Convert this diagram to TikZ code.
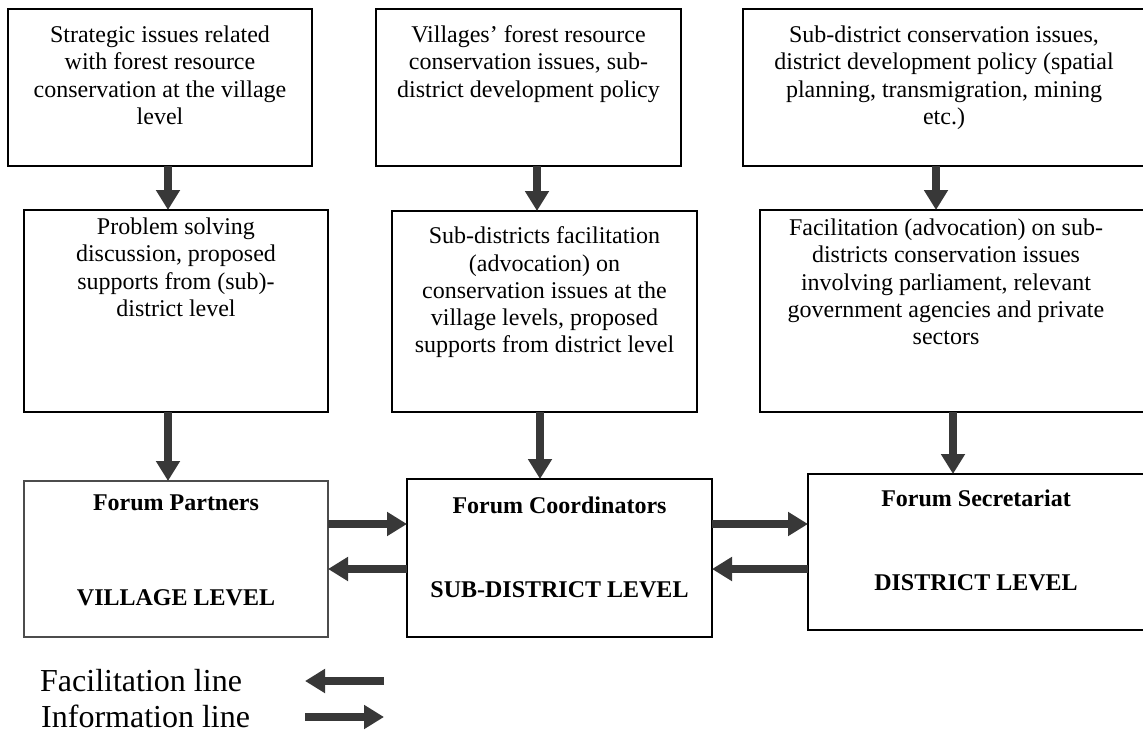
\documentclass[tikz,border=0pt]{standalone}
\usepackage{fontspec}
\setmainfont{Liberation Serif}
\usetikzlibrary{arrows.meta}
\definecolor{arrowgray}{HTML}{383838}
\begin{document}
\begin{tikzpicture}[x=1pt,y=-1pt,
  box/.style={draw=black, line width=1.4pt, inner sep=0pt, outer sep=0pt, anchor=north west},
  body/.style={font=\fontsize{24}{27.3}\selectfont, align=center, inner sep=0pt, anchor=north},
  lbl/.style={font=\fontsize{24}{27.3}\selectfont\bfseries, inner sep=0pt, anchor=base},
  leg/.style={font=\fontsize{32}{36}\selectfont, inner sep=0pt, anchor=base west},
  arr/.style={draw=arrowgray, line width=7.5pt, -{Triangle[length=20pt,width=23pt]}}]
\useasboundingbox (0,0) rectangle (1143,733);

% boxes
\node[box, minimum width=304pt, minimum height=157pt] (A1) at (8,9) {};
\node[box, minimum width=305pt, minimum height=157pt] (B1) at (376,9) {};
\node[box, minimum width=402pt, minimum height=157pt] (C1) at (743,9) {};
\node[box, minimum width=304pt, minimum height=202pt] (A2) at (24,210) {};
\node[box, minimum width=305pt, minimum height=201pt] (B2) at (392,211) {};
\node[box, minimum width=385pt, minimum height=202pt] (C2) at (760,210) {};
\node[box, draw=black!70, minimum width=304pt, minimum height=156pt] (A3) at (24,481) {};
\node[box, minimum width=305pt, minimum height=158pt] (B3) at (407,479) {};
\node[box, minimum width=337pt, minimum height=156pt] (C3) at (808,474) {};

% texts
\node[body] (A1t) at (160,25.6) {Strategic issues related\\with forest resource\\conservation at the village\\level};
\node[body] (B1t) at (528.5,25.6) {Villages’ forest resource\\conservation issues, sub-\\district development policy};
\node[body] (C1t) at (944,25.6) {Sub-district conservation issues,\\district development policy (spatial\\planning, transmigration, mining\\etc.)};
\node[body] (A2t) at (176,217.6) {Problem solving\\discussion, proposed\\supports from (sub)-\\district level};
\node[body] (B2t) at (544.5,226.6) {Sub-districts facilitation\\(advocation) on\\conservation issues at the\\village levels, proposed\\supports from district level};
\node[body] (C2t) at (946,218.6) {Facilitation (advocation) on sub-\\districts conservation issues\\involving parliament, relevant\\government agencies and private\\sectors};

\node[lbl] (A3a) at (176,510) {Forum Partners};
\node[lbl] (A3b) at (176,605) {VILLAGE LEVEL};
\node[lbl] (B3a) at (559.5,513) {Forum Coordinators};
\node[lbl] (B3b) at (559.5,597) {SUB-DISTRICT LEVEL};
\node[lbl] (C3a) at (976,506) {Forum Secretariat};
\node[lbl] (C3b) at (976,590) {DISTRICT LEVEL};

% vertical connectors
\coordinate (xA) at (168,0);
\coordinate (xB1) at (537,0);
\coordinate (xB2) at (540,0);
\coordinate (xC1) at (936,0);
\coordinate (xC2) at (953,0);
\draw[arr] (A1.south -| xA) -- (A2.north -| xA);
\draw[arr] (B1.south -| xB1) -- (B2.north -| xB1);
\draw[arr] (C1.south -| xC1) -- (C2.north -| xC1);
\draw[arr] (A2.south -| xA) -- (A3.north -| xA);
\draw[arr] (B2.south -| xB2) -- (B3.north -| xB2);
\draw[arr] (C2.south -| xC2) -- (C3.north -| xC2);

% horizontal connectors
\coordinate (yR) at (0,524);
\coordinate (yL) at (0,569);
\draw[arr] (A3.east |- yR) -- (B3.west |- yR);
\draw[arr] (B3.west |- yL) -- (A3.east |- yL);
\draw[arr] (B3.east |- yR) -- (C3.west |- yR);
\draw[arr] (C3.west |- yL) -- (B3.east |- yL);

% legend
\node[leg] (FL) at (40,691) {Facilitation line};
\node[leg] (IL) at (41,727) {Information line};
\coordinate (f1) at (384,681);
\coordinate (f2) at (305,681);
\coordinate (i1) at (305,717);
\coordinate (i2) at (384,717);
\draw[arr] (f1) -- (f2);
\draw[arr] (i1) -- (i2);
\end{tikzpicture}
\end{document}
